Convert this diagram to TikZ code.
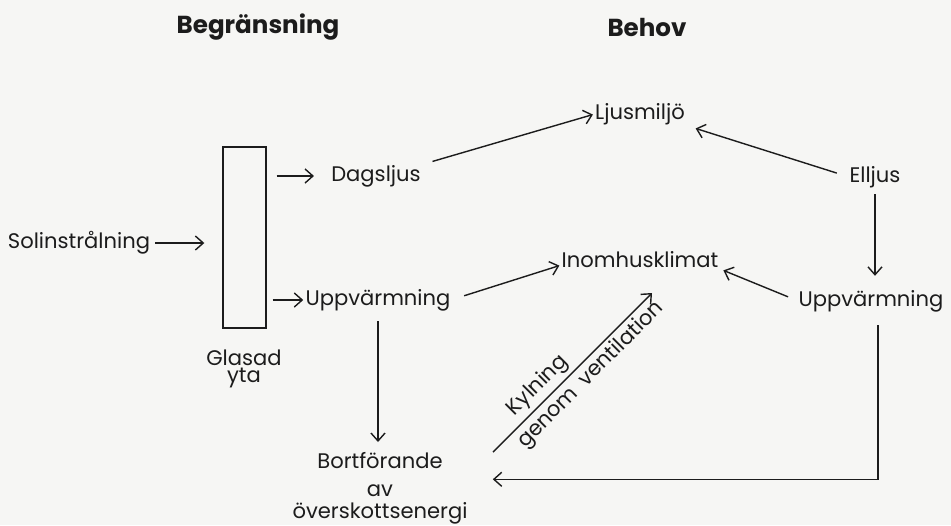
\documentclass[tikz,border=0pt]{standalone}
\usepackage{fontspec}
\setmainfont{Poppins}
\usetikzlibrary{arrows.meta}
\definecolor{paper}{RGB}{246, 246, 244}
\definecolor{ink}{RGB}{28, 28, 28}

\begin{document}
\begin{tikzpicture}[x=0.02cm, y=-0.02cm,
    every node/.style={inner sep=0pt, text=ink, font=\fontsize{12}{14}\selectfont},
    title/.style={font=\fontsize{14}{16}\selectfont\bfseries},
    pane/.style={draw=ink, line width=0.8pt, minimum width=0.86cm, minimum height=3.62cm},
    link/.style={draw=ink, line width=0.8pt, -{Straight Barb[length=4.5pt, width=8pt]}}]
            \fill[paper] (0,0) rectangle (951,525);
            \useasboundingbox (0,0) rectangle (951,525);
            \node[title]             (limit)   at (258,  27) {Begränsning};
            \node[title]             (need)    at (647,  27) {Behov};
            \node                    (sol)     at ( 79, 243) {Solinstrålning};
            \node[pane]              (glas)    at (244.5, 237.5) {};
            \node[align=center]      (glasad)  at (244, 369) {Glasad\\[-4pt]yta};
            \node                    (dag)     at (376, 176) {Dagsljus};
            \node                    (upL)     at (378, 300) {Uppvärmning};
            \node[align=center, anchor=north] (bort) at (380, 452) {Bortförande\\[2pt]av\\[-1.5pt]överskottsenergi};
            \node                    (ljus)    at (640, 114) {Ljusmiljö};
            \node                    (elljus)  at (875, 177) {Elljus};
            \node                    (inom)    at (640, 260) {Inomhusklimat};
            \node                    (upR)     at (871, 301) {Uppvärmning};
            \coordinate              (kylA)    at (493, 452);
            \coordinate              (kylB)    at (652, 293);
            \draw[link, shorten <=0.10cm, shorten >=0.36cm] (sol.east) -- (sol.east -| glas.west);
            \draw[link, shorten <=0.20cm, shorten >=0.34cm] (glas.east |- dag.west) -- (dag.west);
            \draw[link, shorten <=0.12cm, shorten >=0.04cm] (glas.east |- upL.west) -- (upL.west);
            \draw[link, shorten <=0.24cm, shorten >=0.04cm] (dag.north east) -- (ljus.west);
            \draw[link, shorten <=0.26cm, shorten >=0.22cm] (elljus.west) -- (ljus.south east);
            \draw[link, shorten <=0.12cm, shorten >=0.28cm] (elljus.south) -- (elljus.south |- upR.north);
            \draw[link, shorten <=0.28cm, shorten >=0.04cm] (upL.east) -- ([yshift=-0.1cm]inom.west);
            \draw[link, shorten <=0.22cm, shorten >=0.10cm] (upR.west) -- (inom.south east);
            \draw[link, shorten <=0.20cm, shorten >=0.20cm] (upL.south) -- (upL.south |- bort.north);
            \draw[link, shorten <=0.26cm, shorten >=0.50cm] ([xshift=0.14cm]upR.south) |- ([yshift=0.18cm]bort.east);
            \draw[link] (kylA) -- (kylB)
                node[pos=0.35, sloped, above=2pt] {Kylning}
                node[pos=0.55, sloped, below=2pt] {genom\hspace{0.5em}ventilation};
\end{tikzpicture}
\end{document}
